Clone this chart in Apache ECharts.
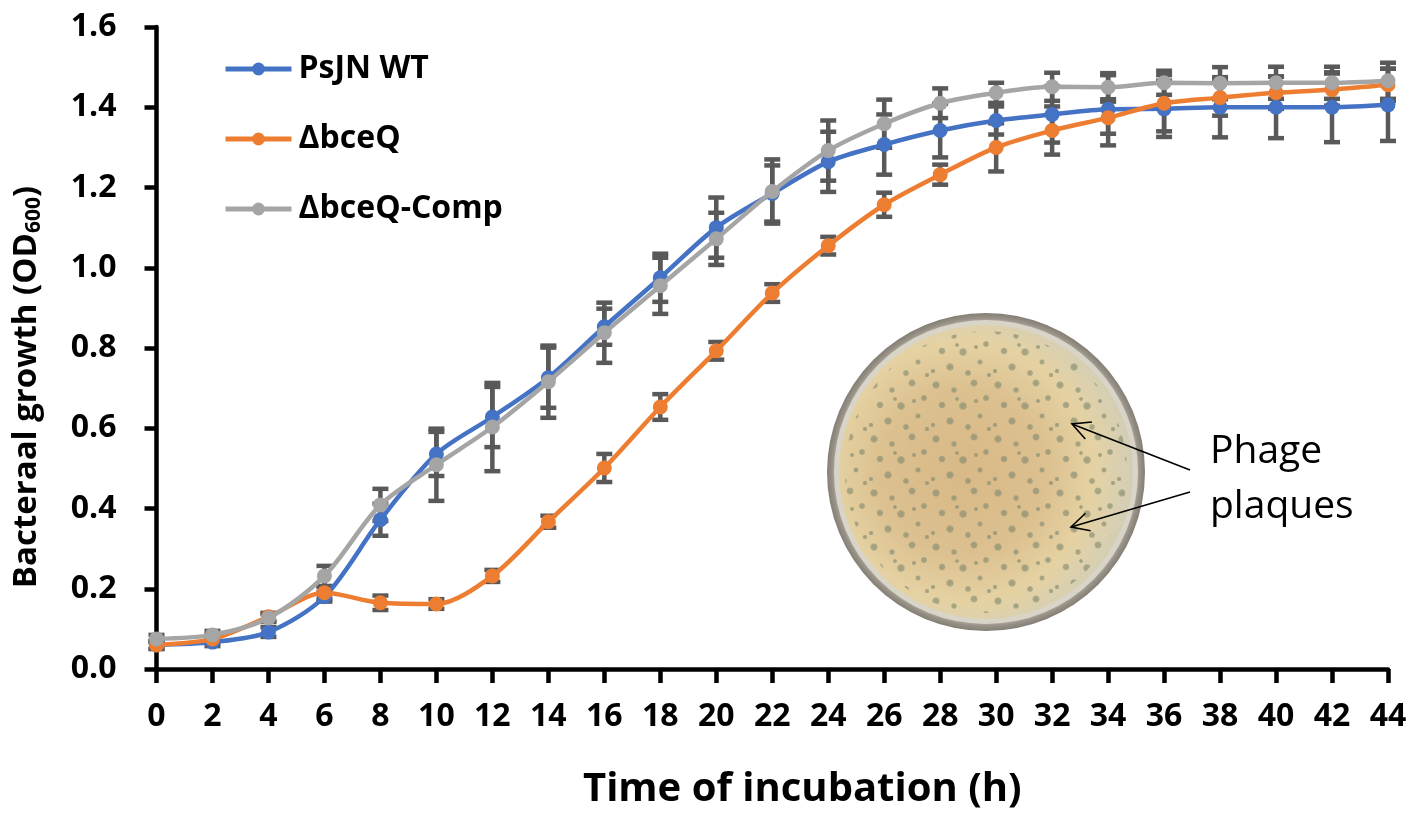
<!DOCTYPE html>
<html>
<head>
<meta charset="utf-8">
<script src="https://cdn.jsdelivr.net/npm/echarts@6/dist/echarts.min.js"></script>
<style>
  html, body { margin: 0; padding: 0; background: #fff; }
  #main { width: 1418px; height: 816px; }
</style>
</head>
<body>
<div id="main"></div>
<script>
// time points (h)
var hours = [0, 2, 4, 6, 8, 10, 12, 14, 16, 18, 20, 22, 24, 26, 28, 30, 32, 34, 36, 38, 40, 42, 44];

// OD600 means
var wtValues = [0.06, 0.067, 0.092, 0.18, 0.372, 0.536, 0.628, 0.726, 0.853, 0.975, 1.10, 1.185, 1.264, 1.307, 1.342, 1.367, 1.382, 1.395, 1.396, 1.40, 1.40, 1.40, 1.406];
var mutValues = [0.06, 0.075, 0.13, 0.19, 0.165, 0.162, 0.232, 0.367, 0.501, 0.653, 0.793, 0.937, 1.055, 1.157, 1.232, 1.30, 1.342, 1.374, 1.41, 1.424, 1.436, 1.444, 1.456];
var compValues = [0.075, 0.085, 0.127, 0.232, 0.409, 0.509, 0.603, 0.716, 0.838, 0.955, 1.072, 1.19, 1.292, 1.359, 1.41, 1.436, 1.451, 1.45, 1.461, 1.46, 1.461, 1.461, 1.466];

// error bar half-widths
var wtErr = [0.01, 0.01, 0.012, 0.012, 0.04, 0.055, 0.075, 0.075, 0.045, 0.06, 0.075, 0.07, 0.075, 0.075, 0.067, 0.035, 0.07, 0.09, 0.07, 0.075, 0.077, 0.087, 0.09];
var mutErr = [0.01, 0.01, 0.01, 0.015, 0.018, 0.012, 0.015, 0.015, 0.035, 0.032, 0.022, 0.022, 0.022, 0.03, 0.025, 0.06, 0.06, 0.04, 0.07, 0.045, 0.04, 0.04, 0.04];
var compErr = [0.01, 0.01, 0.01, 0.025, 0.04, 0.09, 0.11, 0.09, 0.075, 0.07, 0.065, 0.08, 0.075, 0.06, 0.037, 0.025, 0.035, 0.03, 0.03, 0.04, 0.04, 0.04, 0.045];

var seriesNames = ['PsJN WT', '\u0394bceQ', '\u0394bceQ-Comp'];
var seriesColors = ['#4472C4', '#ED7D31', '#A5A5A5'];

var FONT = '"Open Sans", Lato, sans-serif';

function pairs(vals) {
    return hours.map(function (h, i) { return [h, vals[i]]; });
}

function errData(vals, err) {
    return hours.map(function (h, i) { return [h, vals[i] - err[i], vals[i] + err[i]]; });
}

function renderErr(params, api) {
    var x = api.value(0);
    var lo = api.coord([x, api.value(1)]);
    var hi = api.coord([x, api.value(2)]);
    var w = 8;
    var st = { stroke: '#595959', lineWidth: 4.5 };
    return {
        type: 'group',
        children: [
            { type: 'line', shape: { x1: lo[0], y1: lo[1], x2: hi[0], y2: hi[1] }, style: st },
            { type: 'line', shape: { x1: lo[0] - w, y1: lo[1], x2: lo[0] + w, y2: lo[1] }, style: st },
            { type: 'line', shape: { x1: hi[0] - w, y1: hi[1], x2: hi[0] + w, y2: hi[1] }, style: st }
        ]
    };
}

function arrow(tail, tip) {
    var dx = tail[0] - tip[0], dy = tail[1] - tip[1];
    var len = Math.sqrt(dx * dx + dy * dy);
    var ux = dx / len, uy = dy / len;
    var a = 27 * Math.PI / 180, L = 20;
    var b1 = [tip[0] + L * (ux * Math.cos(a) - uy * Math.sin(a)), tip[1] + L * (ux * Math.sin(a) + uy * Math.cos(a))];
    var b2 = [tip[0] + L * (ux * Math.cos(-a) - uy * Math.sin(-a)), tip[1] + L * (ux * Math.sin(-a) + uy * Math.cos(-a))];
    return [
        { type: 'line', z: 100, shape: { x1: tail[0], y1: tail[1], x2: tip[0], y2: tip[1] }, style: { stroke: '#000', lineWidth: 1.6 } },
        { type: 'polyline', z: 100, shape: { points: [b1, tip, b2] }, style: { stroke: '#000', lineWidth: 1.6, fill: null } }
    ];
}

// a tile of plaques, repeated over the agar
var tile = document.createElement('canvas');
tile.width = 62; tile.height = 54;
var tctx = tile.getContext('2d');
var spots = [[6, 7, 4.2], [24, 12, 3.2], [44, 5, 4.0], [56, 20, 3.4], [12, 27, 3.8], [33, 28, 4.4], [50, 38, 3.0], [20, 43, 4.2], [3, 47, 2.6], [38, 49, 3.4], [59, 51, 2.6], [27, 21, 2.2], [46, 23, 2.4]];
spots.forEach(function (s) {
    var g = tctx.createRadialGradient(s[0], s[1], 0, s[0], s[1], s[2]);
    g.addColorStop(0, 'rgba(128,136,110,0.8)');
    g.addColorStop(0.7, 'rgba(128,136,110,0.65)');
    g.addColorStop(1, 'rgba(128,136,110,0)');
    tctx.fillStyle = g;
    tctx.beginPath();
    tctx.arc(s[0], s[1], s[2], 0, Math.PI * 2);
    tctx.fill();
});

var cx = 986, cy = 472;
var dish = [
    { type: 'circle', z: 90, shape: { cx: cx, cy: cy, r: 159 },
      style: { fill: new echarts.graphic.RadialGradient(0.5, 0.5, 0.5, [
          { offset: 0.93, color: '#c4beb2' }, { offset: 0.97, color: '#979086' }, { offset: 1, color: '#857e74' }]) } },
    { type: 'circle', z: 91, shape: { cx: cx, cy: cy, r: 152 }, style: { fill: '#d9d4c8' } },
    { type: 'circle', z: 92, shape: { cx: cx, cy: cy, r: 147 },
      style: { fill: new echarts.graphic.RadialGradient(0.42, 0.5, 0.62, [
          { offset: 0, color: '#d8b987' }, { offset: 0.45, color: '#dcc08f' },
          { offset: 0.72, color: '#e5d2a3' }, { offset: 0.9, color: '#d6cfb3' }, { offset: 1, color: '#cbc7b2' }]) } },
    { type: 'circle', z: 93, shape: { cx: cx, cy: cy, r: 141 },
      style: { fill: { image: tile, repeat: 'repeat' }, opacity: 0.85 } },
    { type: 'text', z: 100, left: 1210, top: 432,
      style: { text: 'Phage', fill: '#000', font: '39px ' + FONT } },
    { type: 'text', z: 100, left: 1210, top: 487,
      style: { text: 'plaques', fill: '#000', font: '39px ' + FONT } }
].concat(arrow([1190, 470], [1072, 424])).concat(arrow([1190, 492], [1071, 527]));

var myChart = echarts.init(document.getElementById('main'));

var option = {
    backgroundColor: '#fff',
    animation: false,
    textStyle: { fontFamily: FONT },
    grid: { left: 155, right: 30, top: 27, bottom: 147 },
    legend: {
        orient: 'vertical',
        left: 218,
        top: 48,
        itemWidth: 66,
        itemHeight: 16,
        itemGap: 38,
        data: seriesNames,
        lineStyle: { width: 5 },
        textStyle: { fontSize: 32, fontWeight: 'bold', color: '#000', fontFamily: FONT, padding: [0, 0, 0, 2] }
    },
    xAxis: {
        type: 'value',
        min: 0,
        max: 44,
        interval: 2,
        name: 'Time of incubation (h)',
        nameLocation: 'middle',
        nameGap: 101,
        nameTextStyle: { fontSize: 40, fontWeight: 'bold', color: '#000', fontFamily: FONT, padding: [0, 0, 0, 60] },
        axisLine: { lineStyle: { color: '#000', width: 4.5 } },
        axisTick: { length: 14, lineStyle: { color: '#000', width: 4.5 } },
        axisLabel: { margin: 32, fontSize: 32, fontWeight: 'bold', color: '#000', fontFamily: FONT },
        splitLine: { show: false }
    },
    yAxis: {
        type: 'value',
        min: 0,
        max: 1.6,
        interval: 0.2,
        name: '{a|Bacteraal growth (OD}{b|600}{a|)}',
        nameLocation: 'middle',
        nameGap: 108,
        nameTextStyle: {
            padding: [0, 78, 0, 0],
            rich: {
                a: { fontSize: 33, fontWeight: 'bold', color: '#000', fontFamily: FONT, lineHeight: 44 },
                b: { fontSize: 21, fontWeight: 'bold', color: '#000', fontFamily: FONT, lineHeight: 44, padding: [16, 0, 0, 0] }
            }
        },
        axisLine: { show: true, lineStyle: { color: '#000', width: 4.5 } },
        axisTick: { show: true, length: 12, lineStyle: { color: '#000', width: 4.5 } },
        axisLabel: {
            margin: 40,
            fontSize: 32,
            fontWeight: 'bold',
            color: '#000',
            fontFamily: FONT,
            formatter: function (v) { return v.toFixed(1); }
        },
        splitLine: { show: false }
    },
    graphic: dish,
    series: [
        { name: 'errWT', type: 'custom', renderItem: renderErr, data: errData(wtValues, wtErr), z: 1, silent: true },
        { name: 'errMut', type: 'custom', renderItem: renderErr, data: errData(mutValues, mutErr), z: 1, silent: true },
        { name: 'errComp', type: 'custom', renderItem: renderErr, data: errData(compValues, compErr), z: 1, silent: true },
        {
            name: seriesNames[0], type: 'line', data: pairs(wtValues), smooth: 0.3,
            symbol: 'circle', symbolSize: 15, z: 3,
            lineStyle: { width: 4.5, color: seriesColors[0] },
            itemStyle: { color: seriesColors[0] }
        },
        {
            name: seriesNames[1], type: 'line', data: pairs(mutValues), smooth: 0.3,
            symbol: 'circle', symbolSize: 15, z: 4,
            lineStyle: { width: 4.5, color: seriesColors[1] },
            itemStyle: { color: seriesColors[1] }
        },
        {
            name: seriesNames[2], type: 'line', data: pairs(compValues), smooth: 0.3,
            symbol: 'circle', symbolSize: 15, z: 5,
            lineStyle: { width: 4.5, color: seriesColors[2] },
            itemStyle: { color: seriesColors[2] }
        }
    ]
};

myChart.setOption(option);
</script>
</body>
</html>
